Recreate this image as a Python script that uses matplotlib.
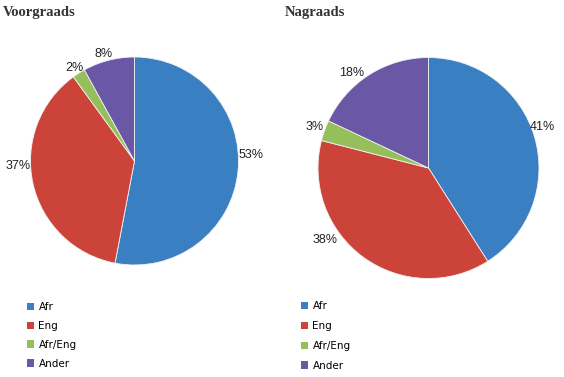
import matplotlib
matplotlib.use("Agg")
import matplotlib.pyplot as plt
from matplotlib.patches import Patch

categories = ["Afr", "Eng", "Afr/Eng", "Ander"]
voorgraads = [53, 37, 2, 8]
nagraads = [41, 38, 3, 18]
colors = ["#3A7FC1", "#CC4439", "#94BF5A", "#6A58A6"]

W, H = 564, 377
fig = plt.figure(figsize=(W / 100, H / 100), dpi=100)

# label placement in pie-radius units (Excel "best fit" style)
left_label_pos = [(1.0, 0.06, "left"), (-1.0, -0.05, "right"),
                  (-0.49, 0.89, "right"), (-0.21, 1.03, "right")]
right_label_pos = [(0.92, 0.37, "left"), (-0.82, -0.65, "right"),
                   (-0.95, 0.37, "right"), (-0.58, 0.86, "right")]


def pie_axes(cx, cy, r):
    # axes in pixel units, square around the pie centre
    return fig.add_axes([(cx - r) / W, 1 - (cy + r) / H, 2 * r / W, 2 * r / H])


def draw(ax, values, label_pos):
    wedges, texts = ax.pie(values, colors=colors, startangle=90, counterclock=False,
                           labels=[f"{v}%" for v in values], labeldistance=1.06,
                           wedgeprops=dict(edgecolor="#f2f2f2", linewidth=0.6),
                           textprops=dict(fontsize=9, family="Liberation Sans", color="#222222"))
    for t, (x, y, ha) in zip(texts, label_pos):
        t.set_position((x, y)); t.set_ha(ha); t.set_va("center")
    ax.set_xlim(-1, 1); ax.set_ylim(-1, 1)
    ax.set_aspect("equal")


ax1 = pie_axes(134.5, 161, 104)
draw(ax1, voorgraads, left_label_pos)
ax2 = pie_axes(428.5, 168, 110.5)
draw(ax2, nagraads, right_label_pos)

fig.text(3 / W, 1 - 16 / H, "Voorgraads", fontsize=10.5, fontweight="bold",
         family="Liberation Serif", color="#333333")
fig.text(285 / W, 1 - 16 / H, "Nagraads", fontsize=10.5, fontweight="bold",
         family="Liberation Serif", color="#333333")

handles = [Patch(facecolor=c, edgecolor="none") for c in colors]
for x0, y0, sp in [(27, 302, 0.85), (301, 301, 0.95)]:
    fig.legend(handles, categories, loc="upper left",
               bbox_to_anchor=(x0 / W, 1 - y0 / H), frameon=False,
               handlelength=0.7, handleheight=0.7, handletextpad=0.4,
               labelspacing=sp, borderaxespad=0, borderpad=0,
               prop=dict(family="DejaVu Sans", size=7.5))

fig.savefig("out.png", dpi=100)
